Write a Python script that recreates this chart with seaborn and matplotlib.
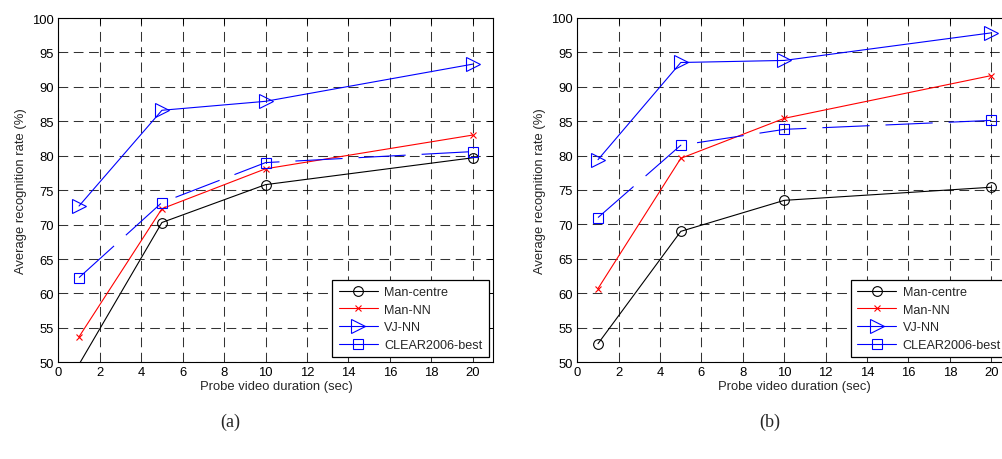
import numpy as np
import pandas as pd
import matplotlib
matplotlib.use("Agg")
import matplotlib.pyplot as plt
import seaborn as sns
from matplotlib.lines import Line2D

durations = [1, 5, 10, 20]
series_names = ["Man-centre", "Man-NN", "VJ-NN", "CLEAR2006-best"]

a_man_centre = [49.7, 70.3, 75.8, 79.7]
a_man_nn = [53.7, 72.3, 78.1, 83.0]
a_vj_nn = [72.7, 86.6, 87.9, 93.3]
a_clear = [62.3, 73.2, 79.0, 80.6]

b_man_centre = [52.7, 69.0, 73.5, 75.4]
b_man_nn = [60.7, 79.6, 85.4, 91.6]
b_vj_nn = [79.4, 93.5, 93.8, 97.8]
b_clear = [71.0, 81.5, 83.8, 85.1]

x_ticks = list(range(0, 21, 2))
y_ticks = list(range(50, 101, 5))
panel_labels = ["(a)", "(b)"]

sns.set_theme(style="white")
plt.rcParams["font.family"] = ["Liberation Sans", "DejaVu Sans"]
plt.rcParams["lines.scale_dashes"] = False

styles = {
    "Man-centre": dict(color="black", marker="o", ms=7, mfc="none", mew=0.8, ls="-"),
    "Man-NN": dict(color="red", marker="x", ms=4, mfc="none", mew=0.8, ls="-"),
    "VJ-NN": dict(color="blue", marker=">", ms=10, mfc="none", mew=0.8, ls="-"),
    "CLEAR2006-best": dict(color="blue", marker="s", ms=7, mfc="none", mew=0.8, ls=(0, (34, 11.5))),
}

fig = plt.figure(figsize=(10.03, 4.60), dpi=100)
W, H = 1003.0, 460.0
ax_a = fig.add_axes([58.3 / W, 1 - 363.3 / H, (493.5 - 58.3) / W, (363.3 - 19.0) / H])
ax_b = fig.add_axes([577.3 / W, 1 - 363.3 / H, (1012.0 - 577.3) / W, (363.3 - 18.7) / H])

panels = [
    (ax_a, [a_man_centre, a_man_nn, a_vj_nn, a_clear]),
    (ax_b, [b_man_centre, b_man_nn, b_vj_nn, b_clear]),
]

for ax, data in panels:
    for name, vals in zip(series_names, data):
        st = styles[name]
        df = pd.DataFrame({"x": durations, "y": vals})
        visible = [i for i, v in enumerate(vals) if 50 <= v <= 100]
        sns.lineplot(data=df, x="x", y="y", ax=ax, color=st["color"], marker=st["marker"],
                     markersize=st["ms"], markerfacecolor=st["mfc"], markeredgecolor=st["color"],
                     markeredgewidth=st["mew"], linestyle=st["ls"], linewidth=0.8,
                     legend=False, markevery=visible)
    ax.set_xlim(0, 21)
    ax.set_ylim(50, 100)
    ax.set_xticks(x_ticks)
    ax.set_yticks(y_ticks)
    ax.grid(True, color="black", linestyle=(0, (7, 4)), linewidth=0.75, alpha=0.8)
    ax.tick_params(direction="in", length=4, width=0.7, top=True, right=True,
                   labelsize=9.4, colors="black", pad=3)
    for s in ax.spines.values():
        s.set_color("black")
        s.set_linewidth(0.8)
    ax.set_xlabel("Probe video duration (sec)", fontsize=9.4, labelpad=1)
    ax.set_ylabel("Average recognition rate (%)", fontsize=9.4, labelpad=4)
    handles = []
    for name in series_names:
        st = styles[name]
        handles.append(Line2D([0], [0], color=st["color"], marker=st["marker"], markersize=st["ms"],
                              markerfacecolor=st["mfc"], markeredgecolor=st["color"],
                              markeredgewidth=st["mew"], linestyle="-", linewidth=0.8))
    leg = ax.legend(handles, series_names, loc="lower right", fontsize=9.1, frameon=True,
                    fancybox=False, edgecolor="black", framealpha=1, borderaxespad=0.38,
                    handlelength=3.1, handletextpad=0.5, labelspacing=0.45, borderpad=0.5)
    leg.get_frame().set_linewidth(0.9)

fig.text(230 / W, 1 - 422 / H, panel_labels[0], fontsize=13, family="Liberation Serif",
         ha="center", va="center")
fig.text(770 / W, 1 - 422 / H, panel_labels[1], fontsize=13, family="Liberation Serif",
         ha="center", va="center")

fig.savefig("out.png", dpi=100, facecolor="white")
